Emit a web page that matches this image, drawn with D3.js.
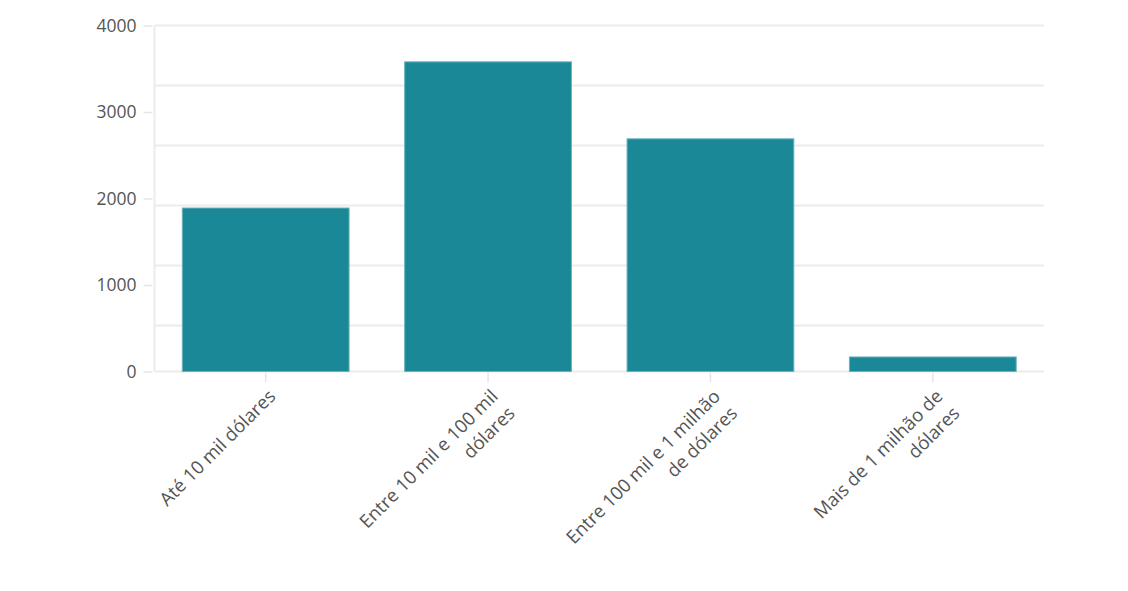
<!DOCTYPE html>
<html>
<head>
<meta charset="utf-8">
<script src="https://cdn.jsdelivr.net/npm/d3@7"></script>
<style>
  html, body { margin: 0; padding: 0; background: #fff; }
  svg { display: block; }
  text { font-family: "Open Sans", sans-serif; }
</style>
</head>
<body>
<svg id="chart" width="1128" height="591"></svg>
<script>
const categories = [
  ["Até 10 mil dólares"],
  ["Entre 10 mil e 100 mil", "dólares"],
  ["Entre 100 mil e 1 milhão", "de dólares"],
  ["Mais de 1 milhão de", "dólares"]
];
const values = [1890, 3580, 2690, 168];
const yTicks = [0, 1000, 2000, 3000, 4000];
const gridValues = [4000, 3306, 2613, 1919, 1225, 532, 0];

(function () {
const svg = d3.select("#chart");
const mLeft = 154.5, mRight = 1044, mTop = 25.5, mBottom = 371.5;

const x = d3.scaleBand()
  .domain(categories.map((d, i) => i))
  .range([mLeft, mRight])
  .paddingInner(0.25)
  .paddingOuter(0.125);

const y = d3.scaleLinear().domain([0, 4000]).range([mBottom, mTop]);

// gridlines
svg.append("g").selectAll("line").data(gridValues).join("line")
  .attr("x1", mLeft).attr("x2", mRight)
  .attr("y1", d => y(d)).attr("y2", d => y(d))
  .attr("stroke", "#ececec").attr("stroke-width", 2);

// y axis line
svg.append("line")
  .attr("x1", mLeft).attr("x2", mLeft)
  .attr("y1", y(4000)).attr("y2", y(0))
  .attr("stroke", "#ececec").attr("stroke-width", 2);

// y axis ticks & labels
const yAxis = d3.axisLeft(y).tickValues(yTicks).tickSize(9).tickPadding(7).tickFormat(d3.format("d"));
const gy = svg.append("g").attr("transform", `translate(${mLeft - 2},0)`).call(yAxis);
gy.select(".domain").remove();
gy.selectAll(".tick line").attr("stroke", "#e6e6e6").attr("stroke-width", 1.5);
gy.selectAll(".tick text").attr("fill", "#555").style("font-size", "17.5px")
  .style("font-family", "'Open Sans', sans-serif");

// bars
svg.append("g").selectAll("rect").data(values).join("rect")
  .attr("x", (d, i) => x(i))
  .attr("width", x.bandwidth())
  .attr("y", d => y(d))
  .attr("height", d => y(0) - y(d))
  .attr("fill", "#1b8897")
  .attr("stroke", "#6bb3be")
  .attr("stroke-width", 1);

// x ticks
const xAxis = d3.axisBottom(x).tickSize(10).tickFormat("");
const gx = svg.append("g").attr("transform", `translate(0,${mBottom + 1})`).call(xAxis);
gx.select(".domain").remove();
gx.selectAll(".tick line").attr("stroke", "#e6e6e6").attr("stroke-width", 1.5);

// x labels, rotated
const lg = svg.append("g").selectAll("g").data(categories).join("g")
  .attr("transform", (d, i) => `translate(${x(i) + x.bandwidth() / 2 + 11},${mBottom + 26}) rotate(-45)`);
lg.each(function (lines) {
  const t = d3.select(this).append("text")
    .attr("text-anchor", "end")
    .attr("fill", "#555")
    .style("font-size", "18.5px");
  lines.forEach((ln, j) => {
    t.append("tspan").attr("x", 0).attr("y", j * 24).text(ln);
  });
});
})();
</script>
</body>
</html>
